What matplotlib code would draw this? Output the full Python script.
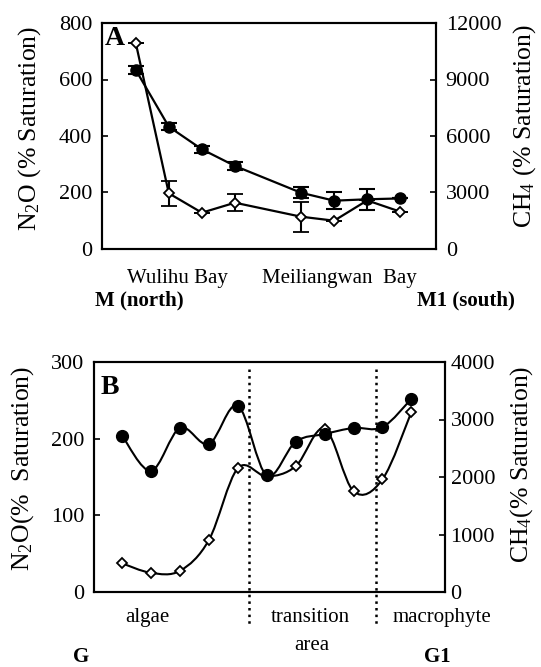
import matplotlib
matplotlib.use('Agg')
import matplotlib.pyplot as plt
from matplotlib.path import Path
from matplotlib.patches import PathPatch

# panel A: M (north) -> M1 (south)
a_pos = [1, 2, 3, 4, 6, 7, 8, 9]
a_n2o = [634, 433, 353, 294, 199, 171, 176, 179]
a_n2o_err = [14, 13, 12, 15, 19, 30, 37, 0]
a_ch4 = [10950, 2957, 1928, 2458, 1715, 1503, 2580, 1980]
a_ch4_err = [0, 680, 0, 450, 796, 0, 0, 0]

# panel B: G -> G1
b_pos = [1, 2, 3, 4, 5, 6, 7, 8, 9, 10, 11]
b_n2o = [204, 158, 214, 193, 243, 152, 196, 206, 214, 215, 252]
b_ch4 = [499, 333, 368, 903, 2152, 2009, 2187, 2841, 1753, 1961, 3132]
b_zones = [5.38, 9.77]

plt.rcParams['font.family'] = ['Liberation Serif', 'DejaVu Serif']
plt.rcParams['mathtext.fontset'] = 'custom'
plt.rcParams['mathtext.rm'] = 'Liberation Serif'
plt.rcParams['mathtext.it'] = 'Liberation Serif:italic'
plt.rcParams['font.size'] = 15

W, H = 541, 667
fig = plt.figure(figsize=(W / 100, H / 100), dpi=100)


def px_axes(l, t, r, b):
    return fig.add_axes([l / W, 1 - b / H, (r - l) / W, (b - t) / H])


def smooth_path(x, y):
    # catmull-rom style bezier through the points (Excel "smoothed line")
    verts = [(x[0], y[0])]
    codes = [Path.MOVETO]
    n = len(x)
    for i in range(n - 1):
        x0, y0 = x[max(i - 1, 0)], y[max(i - 1, 0)]
        x3, y3 = x[min(i + 2, n - 1)], y[min(i + 2, n - 1)]
        c1 = (x[i] + (x[i + 1] - x0) / 6, y[i] + (y[i + 1] - y0) / 6)
        c2 = (x[i + 1] - (x3 - x[i]) / 6, y[i + 1] - (y3 - y[i]) / 6)
        verts += [c1, c2, (x[i + 1], y[i + 1])]
        codes += [Path.CURVE4] * 3
    return Path(verts, codes)


def style_axes(ax, ax2, rpad=7):
    for a in (ax, ax2):
        for s in a.spines.values():
            s.set_linewidth(1.5)
        a.tick_params(direction='in', length=4, width=1.2, labelsize=16)
    ax.tick_params(axis='y', pad=7)
    ax2.tick_params(axis='y', pad=rpad)
    ax.set_xticks([])
    ax.set_zorder(ax2.get_zorder() + 1)
    ax.patch.set_visible(False)


def place_ylabel(a, text, xpx, ypx, left, bottom, width, height):
    a.set_ylabel(text, fontsize=18.5, rotation=90)
    a.yaxis.set_label_coords((xpx - left) / width, (bottom - ypx) / height)
    a.yaxis.label.set_verticalalignment('center')
    a.yaxis.label.set_horizontalalignment('center')


# ---------- panel A ----------
ax = px_axes(102, 23, 436, 249)
ax2 = ax.twinx()
style_axes(ax, ax2)

ax2.errorbar(a_pos, a_ch4, yerr=a_ch4_err, fmt='-D', color='black', mfc='white',
             mec='black', ms=5.5, mew=1.3, lw=1.6, capsize=5.5, elinewidth=1.5, capthick=1.5)
ax.errorbar(a_pos, a_n2o, yerr=a_n2o_err, fmt='-o', color='black', ms=8,
            lw=1.6, capsize=5.5, elinewidth=1.5, capthick=1.5)

ax.set_xlim(-0.02, 10.08)
ax.set_ylim(0, 800)
ax.set_yticks([0, 200, 400, 600, 800])
ax2.set_ylim(0, 12000)
ax2.set_yticks([0, 3000, 6000, 9000, 12000])
place_ylabel(ax, 'N$_2$O (% Saturation)', 30, 128, 102, 249, 334, 226)
place_ylabel(ax2, 'CH$_4$ (% Saturation)', 525, 126, 102, 249, 334, 226)
ax.text(0.009, 0.903, 'A', transform=ax.transAxes, fontsize=20,
        fontweight='bold', ha='left', va='baseline')

fig.text(177 / W, 1 - 283 / H, 'Wulihu Bay', ha='center', va='baseline')
fig.text(339 / W, 1 - 283 / H, 'Meiliangwan  Bay', ha='center', va='baseline')
fig.text(139 / W, 1 - 305 / H, 'M (north)', ha='center', va='baseline', fontweight='bold')
fig.text(466 / W, 1 - 305 / H, 'M1 (south)', ha='center', va='baseline', fontweight='bold')

# ---------- panel B ----------
bx = px_axes(94, 362, 445, 592)
bx2 = bx.twinx()
style_axes(bx, bx2, rpad=4)

bx2.add_patch(PathPatch(smooth_path(b_pos, b_ch4), fill=False, lw=1.5, color='black'))
bx2.plot(b_pos, b_ch4, 'D', mfc='white', mec='black', ms=5.5, mew=1.3)
bx.add_patch(PathPatch(smooth_path(b_pos, b_n2o), fill=False, lw=1.5, color='black'))
bx.plot(b_pos, b_n2o, 'o', color='black', ms=8.5)

for z in b_zones:
    bx.plot([z, z], [0.97, -0.152], transform=bx.get_xaxis_transform(), ls=':',
            color='black', lw=1.8, clip_on=False)

bx.set_xlim(0.03, 12.16)
bx.set_ylim(0, 300)
bx.set_yticks([0, 100, 200, 300])
bx2.set_ylim(0, 4000)
bx2.set_yticks([0, 1000, 2000, 3000, 4000])
place_ylabel(bx, 'N$_2$O(%  Saturation)', 23, 468, 94, 592, 351, 230)
place_ylabel(bx2, 'CH$_4$(% Saturation)', 522, 464, 94, 592, 351, 230)
bx.text(0.019, 0.861, 'B', transform=bx.transAxes, fontsize=20,
        fontweight='bold', ha='left', va='baseline')

fig.text(147 / W, 1 - 622 / H, 'algae', ha='center', va='baseline')
fig.text(310 / W, 1 - 622 / H, 'transition', ha='center', va='baseline')
fig.text(312 / W, 1 - 650 / H, 'area', ha='center', va='baseline')
fig.text(442 / W, 1 - 622 / H, 'macrophyte', ha='center', va='baseline')
fig.text(81 / W, 1 - 662 / H, 'G', ha='center', va='baseline', fontweight='bold')
fig.text(437 / W, 1 - 662 / H, 'G1', ha='center', va='baseline', fontweight='bold')

fig.savefig('out.png', dpi=100)
